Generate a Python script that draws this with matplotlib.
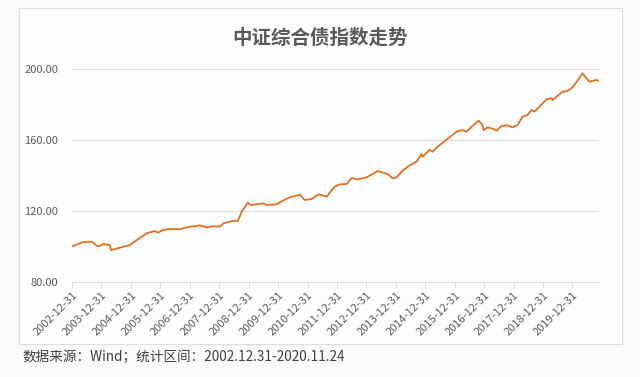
import matplotlib
matplotlib.use("Agg")
import pandas as pd
import matplotlib.pyplot as plt
import matplotlib.dates as mdates
from matplotlib.patches import Rectangle

plt.rcParams['font.family'] = ['Noto Sans CJK SC', 'DejaVu Sans']

# 中证综合债指数
dates = ['2002-12-31', '2003-05-16', '2003-09-05', '2003-11-05', '2003-12-12',
         '2004-01-19', '2004-04-14', '2004-04-27', '2004-06-15', '2004-09-10',
         '2004-12-19', '2005-03-16', '2005-07-18', '2005-10-24', '2005-12-01',
         '2006-02-01', '2006-04-28', '2006-08-30', '2006-11-25', '2007-03-29',
         '2007-05-05', '2007-07-31', '2007-10-13', '2008-01-08', '2008-02-26',
         '2008-06-17', '2008-08-18', '2008-10-06', '2008-12-19', '2009-01-26',
         '2009-05-17', '2009-06-23', '2009-08-12', '2009-12-14', '2010-02-27',
         '2010-05-24', '2010-09-25', '2010-11-26', '2011-02-21', '2011-05-18',
         '2011-08-25', '2011-12-02', '2012-02-02', '2012-04-29', '2012-06-30',
         '2012-09-12', '2013-01-03', '2013-05-19', '2013-07-20', '2013-09-20',
         '2013-11-21', '2014-01-10', '2014-03-25', '2014-06-19', '2014-09-14',
         '2014-11-15', '2014-11-27', '2015-02-22', '2015-03-31', '2015-06-01',
         '2015-10-28', '2016-01-23', '2016-04-07', '2016-05-26', '2016-08-08',
         '2016-10-22', '2016-12-10', '2016-12-23', '2017-02-11', '2017-04-14',
         '2017-06-02', '2017-08-03', '2017-10-16', '2017-12-17', '2018-02-17',
         '2018-04-20', '2018-06-21', '2018-08-09', '2018-09-16', '2019-02-12',
         '2019-04-15', '2019-04-27', '2019-08-29', '2019-10-30', '2019-12-31',
         '2020-03-02', '2020-05-03', '2020-06-21', '2020-07-28', '2020-09-04',
         '2020-10-23', '2020-11-24']
values = [100.0, 102.5, 102.7, 100.3, 100.3,
          101.4, 100.8, 98.0, 98.5, 99.7,
          100.8, 103.7, 107.5, 108.7, 107.8,
          109.3, 109.9, 109.7, 110.8, 111.7,
          111.9, 110.8, 111.4, 111.2, 113.1,
          114.4, 114.4, 119.6, 124.7, 123.4,
          124.0, 124.3, 123.4, 123.8, 125.8,
          127.7, 129.2, 126.2, 126.8, 129.4,
          128.1, 133.7, 135.0, 135.2, 138.6,
          137.8, 139.0, 142.5, 141.6, 140.8,
          138.4, 139.0, 142.7, 145.7, 147.8,
          152.1, 150.6, 154.4, 153.4, 156.2,
          161.5, 164.7, 165.6, 164.7, 167.9,
          170.9, 168.4, 165.6, 167.1, 166.4,
          165.3, 167.9, 168.3, 167.1, 168.4,
          173.1, 174.1, 176.9, 176.0, 182.9,
          183.5, 182.5, 187.2, 187.6, 189.7,
          193.4, 197.6, 194.8, 192.9, 193.3,
          193.8, 193.3]
tick_dates = ['%d-12-31' % y for y in range(2002, 2020)]
y_ticks = [80, 120, 160, 200]

title = '中证综合债指数走势'
source = '数据来源：Wind；统计区间：2002.12.31-2020.11.24'

fig = plt.figure(figsize=(6.4, 3.77), dpi=100, facecolor='#fafafc')
# 图表外框
fig.patches.append(Rectangle((19 / 640, 1 - 344 / 377), 603 / 640, 336 / 377,
                             transform=fig.transFigure, facecolor='#fdfdfe',
                             edgecolor='#dedee2', linewidth=0.8, zorder=0))

ax = fig.add_axes([72 / 640, 1 - 282 / 377, 527 / 640, 213 / 377])
ax.set_zorder(2)
ax.set_facecolor('none')
x = pd.to_datetime(dates)
ax.plot(x, values, color='#e07020', linewidth=1.3, zorder=3)

ax.set_xlim(pd.Timestamp(dates[0]), pd.Timestamp(dates[-1]))
ax.set_ylim(y_ticks[0], y_ticks[-1])
ax.set_yticks(y_ticks)
ax.yaxis.set_major_formatter(matplotlib.ticker.FormatStrFormatter('%.2f'))
ax.grid(axis='y', color='#dcdcdc', linewidth=0.8)
ax.set_axisbelow(True)

ax.set_xticks(pd.to_datetime(tick_dates))
ax.xaxis.set_major_formatter(mdates.DateFormatter('%Y-%m-%d'))
for lab in ax.get_xticklabels():
    lab.set_rotation(45)
    lab.set_ha('right')
    lab.set_rotation_mode('anchor')

for s in ['top', 'right', 'left']:
    ax.spines[s].set_visible(False)
ax.spines['bottom'].set_color('#d9d9d9')
ax.spines['bottom'].set_linewidth(0.8)
ax.tick_params(axis='y', length=0, pad=10, labelsize=8, labelcolor='#595959')
ax.tick_params(axis='x', length=4, color='#d9d9d9', width=0.8, pad=2,
               labelsize=8, labelcolor='#595959')

fig.text(0.5, 1 - 38 / 377, title, ha='center', va='center',
         fontsize=14, fontweight='bold', color='#595959')
fig.text(22 / 640, 1 - 357 / 377, source, ha='left', va='center',
         fontsize=9.8, color='#404040')

fig.savefig('out.png', dpi=100, facecolor=fig.get_facecolor())
